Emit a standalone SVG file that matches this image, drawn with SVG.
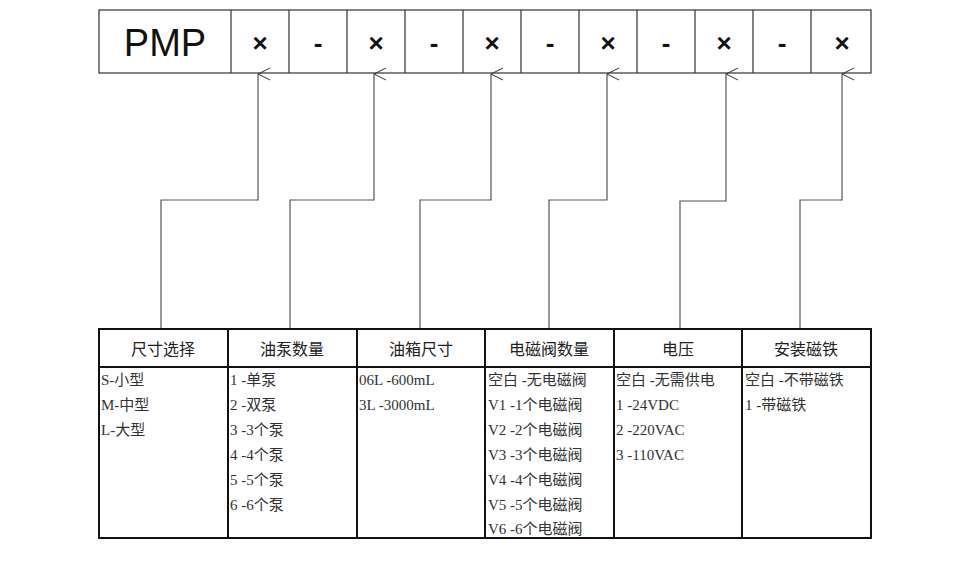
<svg xmlns="http://www.w3.org/2000/svg" width="967" height="568" viewBox="0 0 967 568">
<style>
.c{fill:none;stroke:#333;stroke-width:1.2}
.x{font-family:"Liberation Sans",sans-serif;font-size:26px;font-weight:bold;text-anchor:middle;fill:#111}
.h{font-family:"Liberation Serif","Noto Sans CJK SC",serif;font-size:16px;text-anchor:middle;fill:#222}
.t{font-family:"Liberation Serif","Noto Sans CJK SC",serif;font-size:15px;fill:#333}
.ln{fill:none;stroke:#555;stroke-width:1.2}
</style>
<defs><marker id="a" markerWidth="14" markerHeight="14" refX="7" refY="1" orient="auto-start-reverse" markerUnits="userSpaceOnUse"><path d="M1,13 L7,1 L13,13" fill="none" stroke="#333" stroke-width="1"/></marker></defs>
<rect width="967" height="568" fill="#fff"/>
<g id="code">
<rect class="c" x="99" y="10" width="772" height="63"/>
<path class="c" d="M231,10V73M289,10V73M347,10V73M405,10V73M463,10V73M521,10V73M579,10V73M637,10V73M695,10V73M753,10V73M811,10V73"/>
<text x="165" y="56" font-family="Liberation Sans,sans-serif" font-size="38" text-anchor="middle" fill="#111">PMP</text>
<text class="x" x="260" y="52">×</text><text class="x" x="318" y="52">-</text>
<text class="x" x="376" y="52">×</text><text class="x" x="434" y="52">-</text>
<text class="x" x="492" y="52">×</text><text class="x" x="550" y="52">-</text>
<text class="x" x="608" y="52">×</text><text class="x" x="666" y="52">-</text>
<text class="x" x="724" y="52">×</text><text class="x" x="782" y="52">-</text>
<text class="x" x="842" y="52">×</text>
</g>
<g id="connectors">
<path class="ln" marker-end="url(#a)" d="M161,329V200H258V74"/>
<path class="ln" marker-end="url(#a)" d="M290,329V200H374V74"/>
<path class="ln" marker-end="url(#a)" d="M420,329V200H491V74"/>
<path class="ln" marker-end="url(#a)" d="M549,329V200H607V74"/>
<path class="ln" marker-end="url(#a)" d="M680,329V201H726V74"/>
<path class="ln" marker-end="url(#a)" d="M800,329V200H842V74"/>
</g>
<g id="table">
<rect x="99" y="329" width="772" height="209" fill="none" stroke="#111" stroke-width="2"/>
<path d="M99,367H871M228,329V538M357,329V538M485,329V538M614,329V538M742,329V538" stroke="#111" stroke-width="2" fill="none"/>
<text class="h" x="163" y="355">尺寸选择</text>
<text class="h" x="292" y="355">油泵数量</text>
<text class="h" x="421" y="355">油箱尺寸</text>
<text class="h" x="549" y="355">电磁阀数量</text>
<text class="h" x="678" y="355">电压</text>
<text class="h" x="806" y="355">安装磁铁</text>
<text class="t" x="101" y="385">S-小型</text><text class="t" x="101" y="410">M-中型</text><text class="t" x="101" y="435">L-大型</text>
<text class="t" x="230" y="385">1 -单泵</text><text class="t" x="230" y="410">2 -双泵</text><text class="t" x="230" y="435">3 -3个泵</text><text class="t" x="230" y="460">4 -4个泵</text><text class="t" x="230" y="485">5 -5个泵</text><text class="t" x="230" y="510">6 -6个泵</text>
<text class="t" x="359" y="385">06L -600mL</text><text class="t" x="359" y="410">3L -3000mL</text>
<text class="t" x="488" y="385">空白 -无电磁阀</text><text class="t" x="488" y="410">V1 -1个电磁阀</text><text class="t" x="488" y="435">V2 -2个电磁阀</text><text class="t" x="488" y="460">V3 -3个电磁阀</text><text class="t" x="488" y="485">V4 -4个电磁阀</text><text class="t" x="488" y="510">V5 -5个电磁阀</text><text class="t" x="488" y="534">V6 -6个电磁阀</text>
<text class="t" x="616" y="385">空白 -无需供电</text><text class="t" x="616" y="410">1 -24VDC</text><text class="t" x="616" y="435">2 -220VAC</text><text class="t" x="616" y="460">3 -110VAC</text>
<text class="t" x="745" y="385">空白 -不带磁铁</text><text class="t" x="745" y="410">1 -带磁铁</text>
</g>
</svg>
